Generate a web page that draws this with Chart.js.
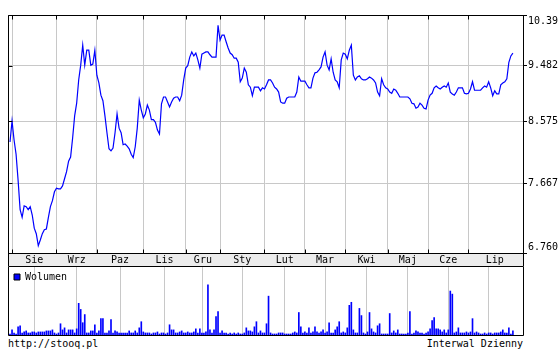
<!DOCTYPE html>
<html><head><meta charset="utf-8">
<script src="https://cdn.jsdelivr.net/npm/chart.js@4.4.0/dist/chart.umd.min.js"></script>
<style>
html,body{margin:0;padding:0;background:#fff;}
#wrap{position:relative;width:560px;height:350px;overflow:hidden;font-family:"DejaVu Sans Mono",monospace;font-size:10px;color:#000;}
.t{position:absolute;white-space:pre;line-height:12px;}
#c1{position:absolute;left:0;top:0;}
#c2{position:absolute;left:0;top:266px;}
</style></head><body>
<div id="wrap">
<div class="t" style="left:8px;top:1px">TEL - 1 rok</div>
<div class="t" style="left:207px;top:1px">31 Lip 2013 13:47 CET</div>
<div class="t" style="right:37px;top:1px">(C)Stooq</div>
<canvas id="c1" width="560" height="266"></canvas>
<canvas id="c2" width="560" height="70"></canvas>
<div class="t" style="left:8px;top:338px">http://stooq.pl</div>
<div class="t" style="right:37px;top:338px">Interwal Dzienny</div>
</div>
<script>
// Daily closing prices, TEL, 31 Jul 2012 - 31 Jul 2013 (trading-day index 0..249)
const closePrices = [
  8.26, 8.58, 8.29, 8.08, 7.71, 7.31, 7.21, 7.36, 7.35, 7.31,
  7.35, 7.24, 7.07, 7.00, 6.85, 6.92, 7.00, 7.05, 7.06, 7.21,
  7.35, 7.43, 7.55, 7.60, 7.59, 7.59, 7.63, 7.73, 7.83, 7.98,
  8.04, 8.32, 8.66, 8.86, 9.24, 9.49, 9.84, 9.49, 9.75, 9.75,
  9.49, 9.51, 9.75, 9.32, 9.19, 8.99, 8.90, 8.66, 8.40, 8.16,
  8.13, 8.17, 8.40, 8.69, 8.47, 8.40, 8.22, 8.23, 8.20, 8.16,
  8.08, 8.03, 8.19, 8.47, 8.91, 8.75, 8.63, 8.69, 8.83, 8.75,
  8.60, 8.60, 8.56, 8.44, 8.38, 8.85, 8.96, 8.96, 8.88, 8.80,
  8.88, 8.94, 8.96, 8.96, 8.90, 8.99, 9.24, 9.44, 9.48, 9.63,
  9.72, 9.65, 9.70, 9.58, 9.44, 9.68, 9.70, 9.72, 9.72, 9.67,
  9.63, 9.63, 9.63, 10.20, 9.93, 10.02, 10.02, 9.90, 9.79, 9.70,
  9.67, 9.61, 9.61, 9.54, 9.21, 9.27, 9.44, 9.37, 9.16, 9.12,
  8.98, 9.12, 9.12, 9.12, 9.06, 9.11, 9.09, 9.16, 9.24, 9.24,
  9.19, 9.12, 9.09, 9.04, 8.88, 8.86, 8.86, 8.94, 8.96, 8.96,
  8.96, 8.96, 9.04, 9.29, 9.22, 9.22, 9.22, 9.16, 9.11, 9.11,
  9.27, 9.36, 9.37, 9.41, 9.46, 9.63, 9.72, 9.49, 9.41, 9.60,
  9.37, 9.24, 9.21, 9.11, 9.58, 9.70, 9.68, 9.60, 9.75, 9.84,
  9.32, 9.24, 9.29, 9.31, 9.26, 9.24, 9.24, 9.26, 9.29, 9.27,
  9.24, 9.19, 9.04, 8.98, 9.26, 9.16, 9.11, 9.09, 9.04, 9.02,
  9.09, 9.07, 9.02, 8.96, 8.96, 8.96, 8.96, 8.96, 8.93, 8.86,
  8.85, 8.78, 8.80, 8.86, 8.83, 8.78, 8.77, 8.91, 8.99, 9.02,
  9.11, 9.14, 9.11, 9.09, 9.12, 9.14, 9.12, 9.19, 9.04, 9.01,
  8.99, 9.04, 9.11, 9.11, 9.11, 9.02, 9.01, 9.02, 9.09, 9.21,
  9.07, 9.07, 9.07, 9.07, 9.11, 9.14, 9.12, 9.21, 9.11, 8.98,
  9.06, 9.01, 9.01, 9.16, 9.19, 9.21, 9.26, 9.54, 9.65, 9.70
];
// Daily volume (thousand shares)
const volumes = [
  20,100,40,20,160,180,40,60,80,40,
  40,60,60,40,60,60,60,60,80,80,
  80,100,40,20,40,220,100,140,40,100,
  100,100,40,120,620,500,240,400,40,40,
  80,80,200,40,80,320,320,40,40,80,
  300,40,80,60,40,40,40,40,40,80,
  40,40,80,40,140,260,60,40,40,40,
  20,40,40,60,20,40,40,20,40,200,
  100,100,40,40,60,80,40,40,60,40,
  40,60,120,40,120,40,40,60,980,100,
  40,100,360,460,40,80,40,40,20,40,
  20,40,20,40,20,20,40,140,80,80,
  60,160,260,40,80,40,40,220,760,40,
  20,20,20,40,40,40,20,20,20,20,
  40,60,40,440,160,40,60,40,140,40,
  60,160,60,40,60,100,40,60,240,40,
  40,100,160,260,40,60,40,140,580,640,
  100,40,40,520,380,40,20,60,440,120,
  60,40,180,220,20,20,20,20,420,40,
  80,40,100,20,20,20,20,40,460,20,
  40,80,60,40,40,20,40,60,120,280,
  340,120,120,100,60,100,40,100,860,800,
  40,60,140,40,40,40,60,40,60,320,
  40,60,40,20,20,40,20,40,40,20,
  40,40,40,60,100,40,40,140,20,80
];
// First trading day (index) of each month, and month names
const monthStartIdx = [1, 23, 43, 66, 87, 104, 126, 146, 166, 187, 207, 227];
const monthNames = ['Sie','Wrz','Paz','Lis','Gru','Sty','Lut','Mar','Kwi','Maj','Cze','Lip'];
const lastIdx = 253;
// Price axis ticks
const priceTicks = [6.760, 7.667, 8.575, 9.482, 10.39];
const priceTickLabels = ['6.760', '7.667', '8.575', '9.482', '10.39'];
const seriesName = 'Wolumen';

const FONT = {family: 'DejaVu Sans Mono', size: 10, lineHeight: 1.2};
const GRID = '#c8c8c8';
const BLUE = '#0000ff';

const monthMid = monthStartIdx.map((s, k) => (s + (k + 1 < monthStartIdx.length ? monthStartIdx[k + 1] : lastIdx)) / 2);

const framePlugin = {
  id: 'frame',
  beforeDraw(chart, args, o) {
    const {ctx, chartArea: a} = chart;
    ctx.save();
    ctx.fillStyle = '#fff';
    ctx.fillRect(0, 0, chart.width, chart.height);
    if (o.band) {
      ctx.fillStyle = o.band;
      ctx.fillRect(a.left, a.bottom, a.right - a.left, chart.height - a.bottom);
    }
    ctx.restore();
  },
  afterDraw(chart, args, o) {
    const {ctx, chartArea: a} = chart;
    const L = Math.round(a.left) + 0.5, R = Math.round(a.right) + 0.5;
    const T = Math.round(a.top) + 0.5, B = Math.round(a.bottom) + 0.5;
    ctx.save();
    ctx.strokeStyle = '#000';
    ctx.lineWidth = 1;
    ctx.beginPath();
    ctx.moveTo(L, T); ctx.lineTo(R, T);
    ctx.moveTo(L, B); ctx.lineTo(R, B);
    const yEnd = o.band ? chart.height : B;
    ctx.moveTo(L, T); ctx.lineTo(L, yEnd);
    ctx.moveTo(R, T); ctx.lineTo(R, yEnd);
    if (o.innerTicks) {
      const xs = chart.scales.x;
      monthStartIdx.forEach(v => {
        const px = Math.round(xs.getPixelForValue(v)) + 0.5;
        ctx.moveTo(px, T); ctx.lineTo(px, T + 4);
        ctx.moveTo(px, B); ctx.lineTo(px, B - 4);
      });
      const ys = chart.scales.y;
      priceTicks.forEach(v => {
        const py = Math.round(ys.getPixelForValue(v)) + 0.5;
        ctx.moveTo(L, py); ctx.lineTo(L + 4, py);
      });
    }
    ctx.stroke();
    ctx.restore();
  }
};

const xTicksBuild = (scale) => {
  const t = monthStartIdx.map(v => ({value: v})).concat(monthMid.map(v => ({value: v})));
  t.sort((p, q) => p.value - q.value);
  scale.ticks = t;
};

new Chart(document.getElementById('c1'), {
  type: 'line',
  data: {
    datasets: [{
      label: 'TEL',
      data: closePrices.map((v, i) => ({x: i, y: v})),
      borderColor: BLUE,
      borderWidth: 1.2,
      pointRadius: 0,
      tension: 0,
      fill: false
    }]
  },
  options: {
    responsive: false,
    animation: false,
    layout: {padding: {left: 8, top: 15, right: 0, bottom: 0}},
    plugins: {legend: {display: false}, tooltip: {enabled: false}, frame: {band: '#ececec', innerTicks: true}},
    scales: {
      x: {
        type: 'linear', position: 'bottom', min: -1, max: lastIdx + 1,
        afterBuildTicks: xTicksBuild,
        afterFit: (s) => { s.height = 13; },
        border: {display: false},
        grid: {
          drawTicks: false,
          color: (c) => (c.tick && monthStartIdx.includes(c.tick.value)) ? GRID : 'rgba(0,0,0,0)'
        },
        ticks: {
          autoSkip: false, maxRotation: 0, minRotation: 0, padding: 1,
          color: '#000', font: FONT,
          callback: (v) => { const k = monthMid.indexOf(v); return k >= 0 ? monthNames[k] : ''; }
        }
      },
      y: {
        type: 'logarithmic', position: 'right', min: priceTicks[0], max: priceTicks[priceTicks.length - 1],
        afterBuildTicks: (s) => { s.ticks = priceTicks.map(v => ({value: v})); },
        afterFit: (s) => { s.width = 37; },
        border: {display: false},
        grid: {color: GRID, tickColor: '#000', tickLength: 4, drawTicks: true},
        ticks: {
          padding: 1, color: '#000', font: FONT, autoSkip: false,
          callback: (v) => {
            const k = priceTicks.indexOf(v);
            const lab = k >= 0 ? priceTickLabels[k] : '';
            if (k === priceTicks.length - 1) return ['', lab];
            if (k === 0) return [lab, ''];
            return lab;
          }
        }
      }
    }
  },
  plugins: [framePlugin]
});

new Chart(document.getElementById('c2'), {
  type: 'bar',
  data: {
    datasets: [{
      label: seriesName,
      data: volumes.map((v, i) => ({x: i, y: v})),
      backgroundColor: BLUE,
      borderWidth: 0,
      barThickness: 1
    }]
  },
  options: {
    responsive: false,
    animation: false,
    layout: {padding: {left: 8, top: 0, right: 37, bottom: 1}},
    plugins: {
      tooltip: {enabled: false},
      frame: {band: null, innerTicks: false},
      legend: {
        display: true, position: 'chartArea', align: 'start',
        labels: {
          boxWidth: 6, boxHeight: 6, padding: 6, color: '#000', font: FONT,
          generateLabels: (chart) => Chart.defaults.plugins.legend.labels.generateLabels(chart)
            .map(l => Object.assign(l, {lineWidth: 1, strokeStyle: '#000'}))
        }
      }
    },
    scales: {
      x: {
        type: 'linear', min: -1, max: lastIdx + 1, offset: false,
        afterBuildTicks: (s) => { s.ticks = monthStartIdx.map(v => ({value: v})); },
        afterFit: (s) => { s.height = 0; },
        border: {display: false},
        grid: {color: GRID, drawTicks: false},
        ticks: {display: false}
      },
      y: {display: false, min: 0, max: 1350}
    }
  },
  plugins: [framePlugin]
});
</script>
</body></html>
